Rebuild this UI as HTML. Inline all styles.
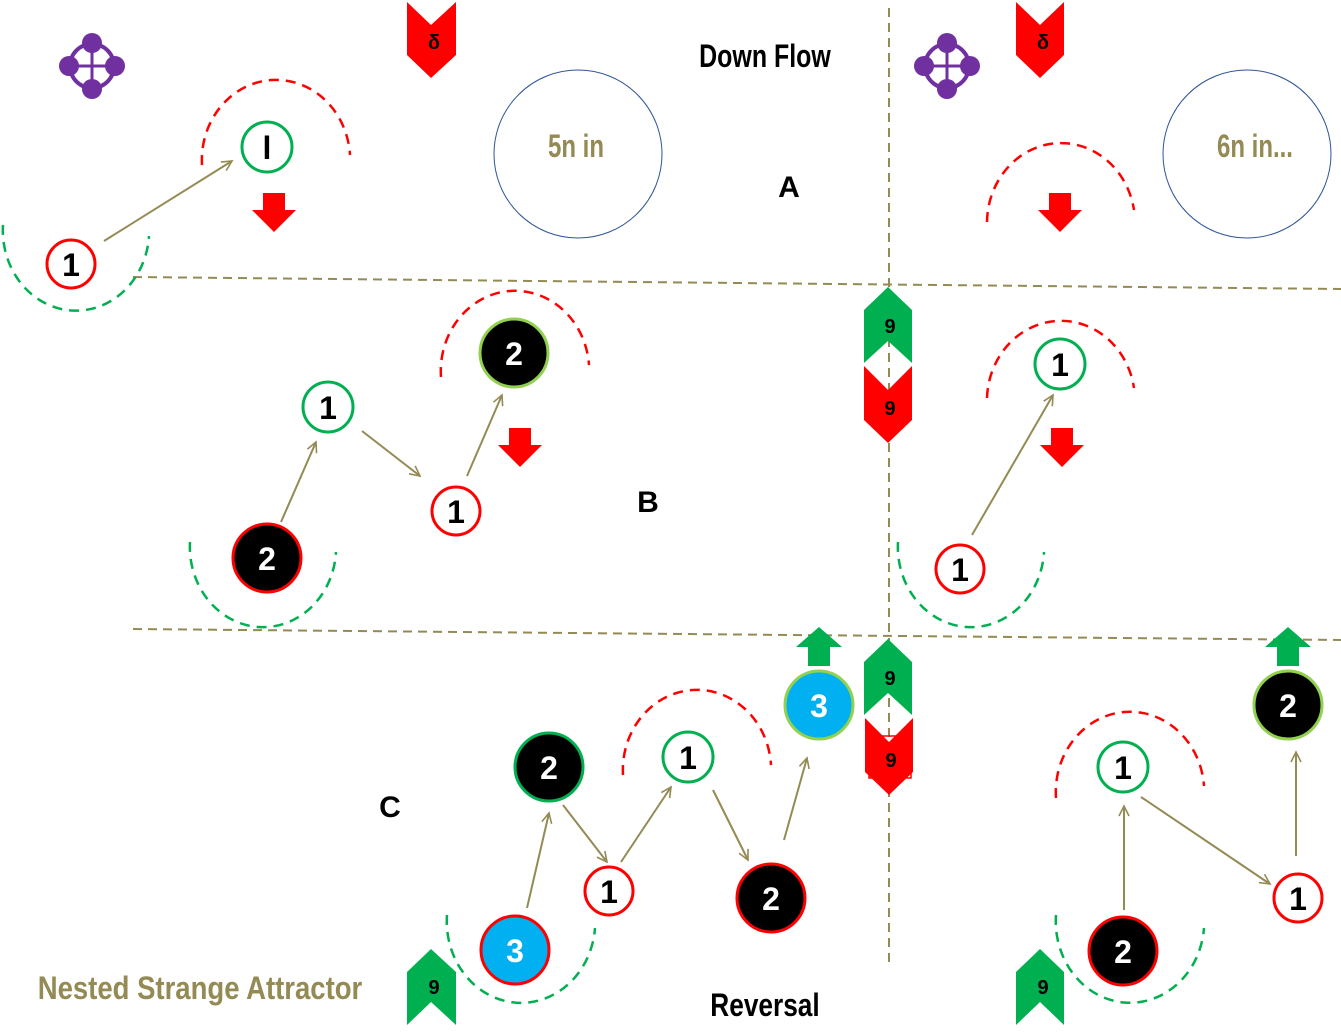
<!DOCTYPE html>
<html><head><meta charset="utf-8"><style>
html,body{margin:0;padding:0;background:#fff}
svg{display:block}
text{font-family:"Liberation Sans Narrow","Liberation Sans",sans-serif;font-weight:bold}
</style></head><body>
<svg width="1341" height="1034" viewBox="0 0 1341 1034" xmlns="http://www.w3.org/2000/svg">
<defs>
<marker id="ah" markerWidth="14" markerHeight="14" refX="11" refY="6" orient="auto" markerUnits="userSpaceOnUse">
<path d="M1,1 L11,6 L1,11" fill="none" stroke="#948A54" stroke-width="1.6"/>
</marker>
<g id="purple">
<circle cx="0" cy="0" r="22" fill="none" stroke="#7030A0" stroke-width="4"/>
<line x1="-24" y1="0" x2="24" y2="0" stroke="#7030A0" stroke-width="3"/>
<line x1="0" y1="-24" x2="0" y2="24" stroke="#7030A0" stroke-width="3"/>
<circle cx="0" cy="-23" r="10" fill="#7030A0"/><circle cx="0" cy="23" r="10" fill="#7030A0"/>
<circle cx="-23" cy="0" r="10" fill="#7030A0"/><circle cx="23" cy="0" r="10" fill="#7030A0"/>
</g>
</defs>

<g stroke="#948A54" stroke-width="2" stroke-dasharray="9,6" fill="none">
<line x1="133" y1="277" x2="1341" y2="289"/>
<line x1="133" y1="629" x2="1341" y2="640"/>
<line x1="889" y1="8" x2="889" y2="968"/>
</g>

<use href="#purple" x="92" y="66"/>
<use href="#purple" x="947" y="66"/>

<polygon points="407,2 431,25 456,2 456,55 431,78 407,55" fill="#FF0000"/>
<text x="434" y="49" font-size="20" text-anchor="middle" fill="#000">δ</text>
<polygon points="1016,2 1040,25 1064,2 1064,55 1040,78 1016,55" fill="#FF0000"/>
<text x="1043" y="49" font-size="20" text-anchor="middle" fill="#000">δ</text>

<polygon points="407,1025 431,1002 456,1025 456,972 431,949 407,972" fill="#00B050"/>
<text x="434" y="994" font-size="20" text-anchor="middle" fill="#000">9</text>
<polygon points="1016,1025 1040,1002 1064,1025 1064,972 1040,949 1016,972" fill="#00B050"/>
<text x="1043" y="994" font-size="20" text-anchor="middle" fill="#000">9</text>

<polygon points="864,310 888,287 912,310 912,363 888,341 864,363" fill="#00B050"/>
<text x="890" y="333" font-size="20" text-anchor="middle">9</text>
<polygon points="864,366 888,390 912,366 912,420 888,443 864,420" fill="#FF0000"/>
<text x="890" y="415" font-size="20" text-anchor="middle">9</text>
<polygon points="864,662 888,639 912,662 912,715 888,693 864,715" fill="#00B050"/>
<text x="890" y="685" font-size="20" text-anchor="middle">9</text>
<polygon points="865,718 889,742 913,718 913,772 889,795 865,772" fill="#FF0000"/>
<rect x="869" y="736" width="42" height="42" fill="none" stroke="#FF0000" stroke-width="1.5"/>
<text x="891" y="767" font-size="20" text-anchor="middle">9</text>

<text x="765" y="67" font-size="32" text-anchor="middle" fill="#000" transform="translate(765,0) scale(0.78,1) translate(-765,0)">Down Flow</text>
<text x="789" y="197" font-size="30" text-anchor="middle">A</text>
<text x="648" y="512" font-size="30" text-anchor="middle">B</text>
<text x="390" y="817" font-size="30" text-anchor="middle">C</text>
<text x="765" y="1016" font-size="32" text-anchor="middle" transform="translate(765,0) scale(0.82,1) translate(-765,0)">Reversal</text>
<text x="200" y="999" font-size="32" text-anchor="middle" fill="#948A54" transform="translate(200,0) scale(0.86,1) translate(-200,0)">Nested Strange Attractor</text>

<circle cx="578" cy="154" r="84" fill="none" stroke="#2F5597" stroke-width="1"/>
<text x="576" y="157" font-size="32" text-anchor="middle" fill="#948A54" transform="translate(576,0) scale(0.75,1) translate(-576,0)">5n in</text>
<circle cx="1247" cy="154" r="84" fill="none" stroke="#2F5597" stroke-width="1"/>
<text x="1255" y="157" font-size="32" text-anchor="middle" fill="#948A54" transform="translate(1255,0) scale(0.75,1) translate(-1255,0)">6n in...</text>

<g fill="none" stroke-width="2.5" stroke-dasharray="10,7">
<path d="M202,165 A74,80 0 0 1 350,155" stroke="#FF0000"/>
<path d="M3,225 A73,80 0 0 0 149,236" stroke="#00B050"/>
<path d="M987,222 A74,80 0 0 1 1134,210" stroke="#FF0000"/>
<path d="M441,377 A74,80 0 0 1 589,365" stroke="#FF0000"/>
<path d="M190,542 A73,80 0 0 0 336,552" stroke="#00B050"/>
<path d="M987,398 A74,80 0 0 1 1134,388" stroke="#FF0000"/>
<path d="M898,542 A73,80 0 0 0 1044,552" stroke="#00B050"/>
<path d="M623,775 A74,80 0 0 1 771,765" stroke="#FF0000"/>
<path d="M447,915 A73,80 0 0 0 595,928" stroke="#00B050"/>
<path d="M1056,798 A74,80 0 0 1 1204,786" stroke="#FF0000"/>
<path d="M1056,915 A73,80 0 0 0 1204,928" stroke="#00B050"/>
</g>

<g stroke="#948A54" stroke-width="2" marker-end="url(#ah)">
<line x1="104" y1="241" x2="232" y2="161"/>
<line x1="281" y1="522" x2="316" y2="442"/>
<line x1="362" y1="431" x2="420" y2="476"/>
<line x1="467" y1="476" x2="502" y2="395"/>
<line x1="972" y1="535" x2="1053" y2="395"/>
<line x1="527" y1="908" x2="549" y2="813"/>
<line x1="563" y1="805" x2="607" y2="862"/>
<line x1="621" y1="862" x2="671" y2="787"/>
<line x1="713" y1="790" x2="748" y2="860"/>
<line x1="784" y1="840" x2="807" y2="758"/>
<line x1="1124" y1="910" x2="1124" y2="806"/>
<line x1="1141" y1="797" x2="1270" y2="884"/>
<line x1="1296" y1="856" x2="1296" y2="752"/>
</g>

<g fill="#FF0000">
<polygon points="263,193 285,193 285,210 296,210 274,232 252,210 263,210"/>
<polygon points="1049,193 1071,193 1071,210 1082,210 1060,232 1038,210 1049,210"/>
<polygon points="509,428 531,428 531,445 542,445 520,467 498,445 509,445"/>
<polygon points="1051,428 1073,428 1073,445 1084,445 1062,467 1040,445 1051,445"/>
</g>
<g fill="#00B050">
<polygon points="808,666 830,666 830,647 842,647 819,627 796,647 808,647"/>
<polygon points="1277,666 1299,666 1299,647 1311,647 1288,627 1265,647 1277,647"/>
</g>

<g font-size="32" text-anchor="middle">
<circle cx="71" cy="264" r="24" fill="#fff" stroke="#FF0000" stroke-width="3"/><text x="71" y="276">1</text>
<circle cx="267" cy="147" r="25" fill="#fff" stroke="#00B050" stroke-width="3"/><text x="267" y="159">l</text>

<circle cx="267" cy="558" r="34" fill="#000" stroke="#FF0000" stroke-width="3"/><text x="267" y="570" fill="#fff">2</text>
<circle cx="328" cy="407" r="25" fill="#fff" stroke="#00B050" stroke-width="3"/><text x="328" y="419">1</text>
<circle cx="456" cy="511" r="24" fill="#fff" stroke="#FF0000" stroke-width="3"/><text x="456" y="523">1</text>
<circle cx="514" cy="353" r="34" fill="#000" stroke="#92D050" stroke-width="3"/><text x="514" y="365" fill="#fff">2</text>

<circle cx="1060" cy="364" r="25" fill="#fff" stroke="#00B050" stroke-width="3"/><text x="1060" y="376">1</text>
<circle cx="960" cy="569" r="24" fill="#fff" stroke="#FF0000" stroke-width="3"/><text x="960" y="581">1</text>

<circle cx="515" cy="950" r="34" fill="#00B0F0" stroke="#FF0000" stroke-width="3"/><text x="515" y="962" fill="#fff">3</text>
<circle cx="549" cy="767" r="34" fill="#000" stroke="#00B050" stroke-width="3"/><text x="549" y="779" fill="#fff">2</text>
<circle cx="609" cy="891" r="24" fill="#fff" stroke="#FF0000" stroke-width="3"/><text x="609" y="903">1</text>
<circle cx="688" cy="757" r="25" fill="#fff" stroke="#00B050" stroke-width="3"/><text x="688" y="769">1</text>
<circle cx="771" cy="898" r="34" fill="#000" stroke="#FF0000" stroke-width="3"/><text x="771" y="910" fill="#fff">2</text>
<circle cx="819" cy="705" r="34" fill="#00B0F0" stroke="#92D050" stroke-width="3"/><text x="819" y="717" fill="#fff">3</text>

<circle cx="1123" cy="767" r="25" fill="#fff" stroke="#00B050" stroke-width="3"/><text x="1123" y="779">1</text>
<circle cx="1123" cy="951" r="34" fill="#000" stroke="#FF0000" stroke-width="3"/><text x="1123" y="963" fill="#fff">2</text>
<circle cx="1298" cy="898" r="24" fill="#fff" stroke="#FF0000" stroke-width="3"/><text x="1298" y="910">1</text>
<circle cx="1288" cy="705" r="34" fill="#000" stroke="#92D050" stroke-width="3"/><text x="1288" y="717" fill="#fff">2</text>
</g>
</svg>
</body></html>
